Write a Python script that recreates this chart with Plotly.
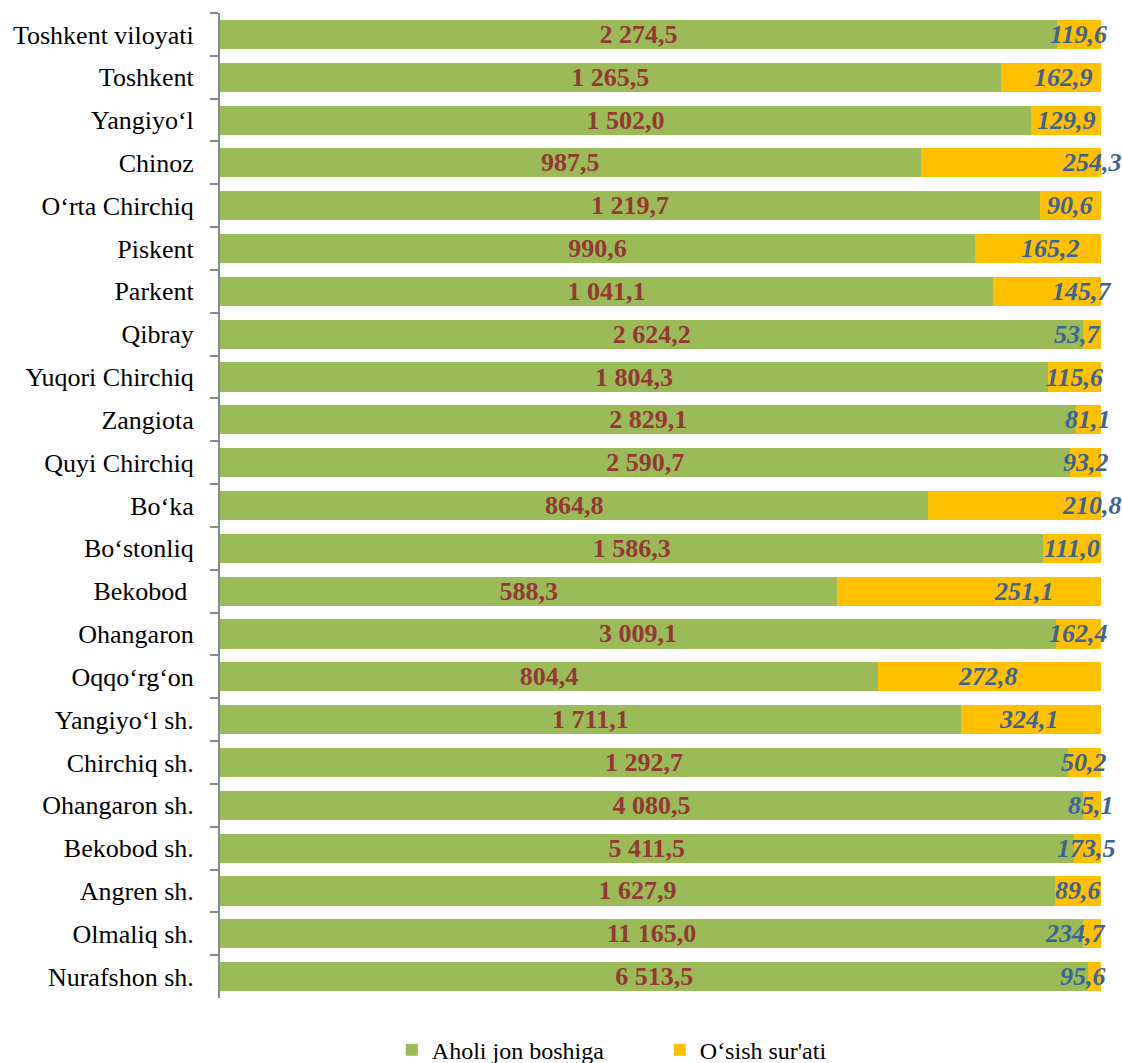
import plotly.graph_objects as go

categories = ["Toshkent viloyati", "Toshkent", "Yangiyo‘l", "Chinoz", "O‘rta Chirchiq",
              "Piskent", "Parkent", "Qibray", "Yuqori Chirchiq", "Zangiota",
              "Quyi Chirchiq", "Bo‘ka", "Bo‘stonliq", "Bekobod\u00a0", "Ohangaron",
              "Oqqo‘rg‘on", "Yangiyo‘l sh.", "Chirchiq sh.", "Ohangaron sh.",
              "Bekobod sh.", "Angren sh.", "Olmaliq sh.", "Nurafshon sh."]
aholi = [2274.5, 1265.5, 1502.0, 987.5, 1219.7, 990.6, 1041.1, 2624.2, 1804.3, 2829.1,
         2590.7, 864.8, 1586.3, 588.3, 3009.1, 804.4, 1711.1, 1292.7, 4080.5, 5411.5,
         1627.9, 11165.0, 6513.5]
osish = [119.6, 162.9, 129.9, 254.3, 90.6, 165.2, 145.7, 53.7, 115.6, 81.1,
         93.2, 210.8, 111.0, 251.1, 162.4, 272.8, 324.1, 50.2, 85.1, 173.5,
         89.6, 234.7, 95.6]
# pixel offsets of the yellow labels relative to bar end (layout only)
label_shift = [-23, -38, -35, -9, -31, -51, -19, -24, -27, -13, -15, -9, -29, -77,
               -23, -113, -72, -17, -10, -15, -23, -26, -18]

def fmt(v):
    return format(v, ",.1f").replace(",", " ").replace(".", ",")

FONT = "Liberation Serif, Times New Roman, serif"
GREEN = "#9BBB59"
YELLOW = "#FFC000"
RED = "#953735"
BLUE = "#3B6396"

fig = go.Figure()
fig.add_trace(go.Bar(
    y=categories, x=aholi, orientation="h", name="Aholi jon boshiga",
    marker=dict(color=GREEN, line=dict(width=0)),
    text=[fmt(v) for v in aholi], textposition="inside", insidetextanchor="middle",
    constraintext="none",
    textfont=dict(family=FONT, size=26, color=RED, weight="bold"),
))
fig.add_trace(go.Bar(
    y=categories, x=osish, orientation="h", name="O‘sish sur'ati",
    marker=dict(color=YELLOW, line=dict(width=0)),
))

for c, v, s in zip(categories, osish, label_shift):
    fig.add_annotation(x=100, y=c, xref="x", yref="y", text=fmt(v), showarrow=False,
                       xanchor="center", yanchor="middle", xshift=s,
                       font=dict(family=FONT, size=26, color=BLUE, weight="bold",
                                 style="italic"))

fig.update_layout(
    width=1122, height=1063,
    barmode="stack", barnorm="percent", bargap=0.32,
    paper_bgcolor="white", plot_bgcolor="white",
    margin=dict(l=220, r=21, t=13, b=65, autoexpand=False),
    font=dict(family=FONT, size=26, color="black"),
    showlegend=True,
    legend=dict(orientation="h", traceorder="normal",
                x=0.195, xanchor="left", y=-0.03, yanchor="top",
                font=dict(family=FONT, size=24, color="black"),
                entrywidth=223, entrywidthmode="pixels", itemwidth=30,
                bgcolor="rgba(0,0,0,0)"),
    xaxis=dict(range=[0, 100], visible=False, showgrid=False, zeroline=False),
    yaxis=dict(autorange="reversed", type="category", tickson="boundaries",
               ticks="outside", ticklen=8, tickwidth=2, tickcolor="#898989",
               showline=True, linecolor="#898989", linewidth=2, showgrid=False,
               ticklabelstandoff=19,
               tickfont=dict(family=FONT, size=26, color="black")),
    uniformtext=dict(mode=False),
)

fig.write_html("out.html", config={"displayModeBar": False},
               post_script="document.body.style.margin='0';document.body.style.overflow='hidden';")
